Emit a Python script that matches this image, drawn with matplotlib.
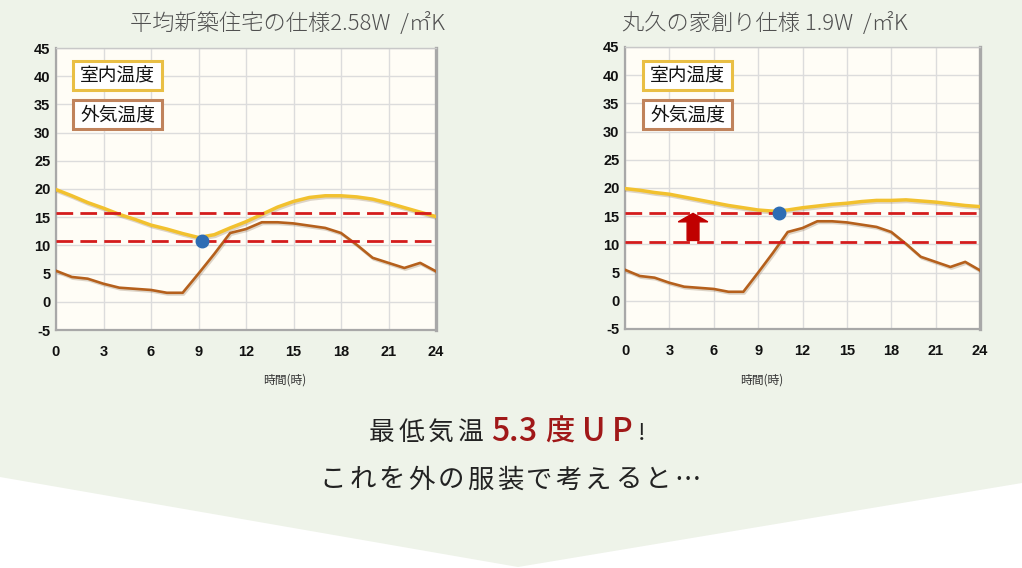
import matplotlib
matplotlib.use("Agg")
import matplotlib.pyplot as plt
from matplotlib.patches import Polygon, Rectangle
import matplotlib.patheffects as pe

plt.rcParams['font.family'] = ['Noto Sans CJK JP', 'DejaVu Sans']
plt.rcParams['axes.unicode_minus'] = False

# ---------------- data ----------------
hours = list(range(25))
outdoor = [5.5, 4.4, 4.1, 3.2, 2.5, 2.3, 2.1, 1.6, 1.6, 5.0, 8.5, 12.2, 12.9,
           14.1, 14.1, 13.9, 13.5, 13.1, 12.2, 10.1, 7.8, 6.9, 6.0, 6.9, 5.4]
indoor_avg = [19.9, 18.8, 17.6, 16.6, 15.5, 14.6, 13.6, 12.9, 12.1, 11.4, 11.9,
              13.1, 14.2, 15.5, 16.8, 17.8, 18.5, 18.8, 18.8, 18.6, 18.2, 17.5,
              16.7, 15.9, 15.1]
indoor_maru = [19.9, 19.6, 19.2, 18.9, 18.4, 17.9, 17.4, 16.9, 16.5, 16.1, 15.9,
               16.1, 16.5, 16.8, 17.1, 17.3, 17.6, 17.8, 17.8, 17.9, 17.7, 17.5,
               17.2, 16.9, 16.7]
dash_levels_left = [15.8, 10.7]
dash_levels_right = [15.6, 10.5]
min_point_left = (9.2, 10.7)
min_point_right = (10.4, 15.6)
arrow_x, arrow_from, arrow_to = 4.6, 10.7, 15.5
titles = ["平均新築住宅の仕様2.58W  /㎡K", "丸久の家創り仕様 1.9W  /㎡K"]
legend_labels = ["室内温度", "外気温度"]
xticks = [0, 3, 6, 9, 12, 15, 18, 21, 24]
yticks = [-5, 0, 5, 10, 15, 20, 25, 30, 35, 40, 45]
xlabel = "時間(時)"
headline_a, headline_b, headline_c = "最低気温", "5.3度UP", "!"
line2 = "これを外の服装で考えると…"

# ---------------- style ----------------
W, H = 1022, 568
BG = "#eef3e9"
C_IN = "#f2c12e"
C_OUT = "#b5601c"
C_DASH = "#d41c1c"
C_DOT = "#2e6db4"
C_LEG_IN = "#e9bf45"
C_LEG_OUT = "#c0835c"

fig = plt.figure(figsize=(W / 100, H / 100), dpi=100)
fig.patch.set_facecolor("white")


def fx(x):
    return x / W


def fy(y):
    return 1 - y / H


# chevron-shaped green background
fig.patches.append(Polygon([(0, 1), (1, 1), (1, fy(483)), (fx(518), fy(567)), (0, fy(477))],
                           closed=True, transform=fig.transFigure, facecolor=BG,
                           edgecolor="none", zorder=-5))


def make_axes(x0, x1, y0, y1, indoor, dashes, dot, title, title_cx, xlab_cx, leg_x0, leg_x1, arrow=False):
    ax = fig.add_axes([fx(x0), fy(y1), fx(x1 - x0), (y1 - y0) / H])
    ax.set_zorder(2)
    ax.set_facecolor("#fffdf6")
    ax.set_xlim(0, 24)
    ax.set_ylim(-5, 45)
    ax.set_xticks(xticks)
    ax.set_yticks(yticks)
    ax.grid(True, color="#dcdcdc", linewidth=1.0)
    ax.set_axisbelow(True)
    for s in ["left", "bottom"]:
        ax.spines[s].set_color("#a8a8a8")
        ax.spines[s].set_linewidth(1.6)
    ax.spines["right"].set_color("#a8a8a8")
    ax.spines["right"].set_linewidth(2.4)
    ax.spines["top"].set_color("#c8c8c8")
    ax.spines["top"].set_linewidth(1.0)
    ax.tick_params(length=0, labelsize=10.5, colors="#111111")
    ax.tick_params(axis="x", pad=11)
    ax.tick_params(axis="y", pad=4)
    for lab in ax.get_xticklabels() + ax.get_yticklabels():
        lab.set_fontfamily(["Liberation Sans", "DejaVu Sans"])
        lab.set_fontweight("bold")

    shadow = [pe.SimpleLineShadow(offset=(0.8, -1.2), shadow_color="#7a5a3a", alpha=0.25), pe.Normal()]
    ax.plot(hours, outdoor, color=C_OUT, linewidth=1.9, zorder=3, path_effects=shadow)
    ax.plot(hours, indoor, color=C_IN, linewidth=2.5, zorder=3, path_effects=shadow)
    for lv in dashes:
        ax.axhline(lv, color=C_DASH, linewidth=2.0, dashes=(6, 2.6), zorder=4)
    ax.plot([dot[0]], [dot[1]], "o", color=C_DOT, markersize=9, zorder=6)
    if arrow:
        ax.arrow(arrow_x, arrow_from, 0, arrow_to - arrow_from, width=0.8, head_width=2.0,
                 head_length=1.5, length_includes_head=True, color="#c00000", zorder=5)

    # legend boxes
    for i, (lab, col) in enumerate(zip(legend_labels, [C_LEG_IN, C_LEG_OUT])):
        top = [61, 100][i]
        bot = top + 29
        ax_y0 = 1 - (bot - y0) / (y1 - y0)
        ax_y1 = 1 - (top - y0) / (y1 - y0)
        ax_x0 = (leg_x0 - x0) / (x1 - x0)
        ax_x1 = (leg_x1 - x0) / (x1 - x0)
        ax.add_patch(Rectangle((ax_x0, ax_y0), ax_x1 - ax_x0, ax_y1 - ax_y0, transform=ax.transAxes,
                               facecolor="white", edgecolor=col, linewidth=2.2, zorder=7))
        ax.text((ax_x0 + ax_x1) / 2, (ax_y0 + ax_y1) / 2, lab, transform=ax.transAxes,
                ha="center", va="center", fontsize=13.5, color="#111111", zorder=8)

    fig.text(fx(title_cx), fy(24), title, ha="center", va="center", fontsize=16,
             color="#505050", fontweight="light")
    fig.text(fx(xlab_cx), fy(380), xlabel, ha="center", va="center", fontsize=8.5, color="#333333")
    return ax


make_axes(56, 436, 48, 330, indoor_avg, dash_levels_left, min_point_left, titles[0],
          288, 285, 73, 162)
make_axes(625, 980, 47, 329, indoor_maru, dash_levels_right, min_point_right, titles[1],
          765, 762, 643, 732, arrow=True)

# headline line 1
for i, ch in enumerate(headline_a):
    fig.text(fx(382 + i * 29.5), fy(433), ch, ha="center", va="center", fontsize=18.5, color="#222222")
red_centers = [500, 513.5, 527.5, 559.5, 593.5, 622.5]
for cx, ch in zip(red_centers, headline_b):
    fig.text(fx(cx), fy(432), ch, ha="center", va="center", fontsize=23 if ch != "度" else 21,
             color="#a01818", fontweight="medium")
fig.text(fx(642), fy(433), headline_c, ha="center", va="center", fontsize=17, color="#222222")

# line 2
for i, ch in enumerate(line2):
    fig.text(fx(333 + i * 29.5), fy(480), ch, ha="center", va="center", fontsize=19, color="#222222")

fig.savefig("out.png", dpi=100, facecolor=fig.get_facecolor())
